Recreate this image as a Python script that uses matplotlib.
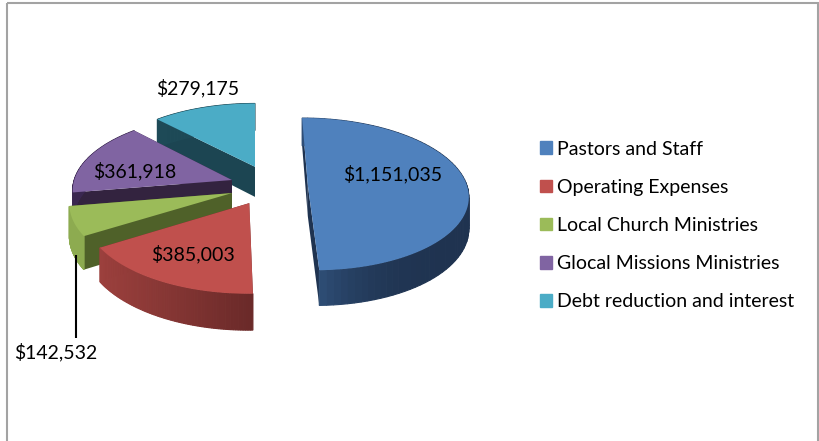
import numpy as np
import matplotlib
matplotlib.use("Agg")
import matplotlib.pyplot as plt
from matplotlib.patches import Patch, Rectangle

plt.rcParams["font.family"] = ["Lato", "DejaVu Sans"]

categories = ["Pastors and Staff", "Operating Expenses", "Local Church Ministries",
              "Glocal Missions Ministries", "Debt reduction and interest"]
values = [1151035, 385003, 142532, 361918, 279175]
value_labels = ["$1,151,035", "$385,003", "$142,532", "$361,918", "$279,175"]

top_colors = ["#4f81bd", "#c0504d", "#9bbb59", "#8064a2", "#4bacc6"]
side_left = ["#2f4f78", "#9c403d", "#8dab50", "#3a2750", "#1e4a57"]
side_right = ["#1f3350", "#6b2a29", "#7e9a47", "#33233f", "#1e4a57"]
radial_colors = ["#1f3350", "#6b2a29", "#4f6129", "#33233f", "#1c4552"]

# explode offset of each slice on the pie plane, radius = 1
explode = [(0.332, 0.0), (-0.035, -0.235), (-0.143, -0.106), (-0.146, 0.067), (0.0, 0.25)]
label_pos = [(393, 174), (193, 254), (56, 352), (135, 171), (198, 88)]

X0, Y0 = 255, 185
RX, RY = 159, 75
PERSP = 0.12
DEPTH = 31


def project(xw, yw, drop=0.0):
    s = 1 / (1 + PERSP * yw)
    return X0 + RX * xw * s, Y0 - RY * yw * s + drop * s


def mix(c1, c2, f):
    a = np.array(matplotlib.colors.to_rgb(c1))
    b = np.array(matplotlib.colors.to_rgb(c2))
    return tuple(a + (b - a) * f)


fig = plt.figure(figsize=(8.2, 4.41), dpi=100)
ax = fig.add_axes([0, 0, 1, 1])
ax.set_xlim(0, 820)
ax.set_ylim(441, 0)
ax.axis("off")

ax.add_patch(Rectangle((7, 3), 811, 460, fill=False, ec="#a3a3a3", lw=1.5))

edges = np.concatenate([[0], np.cumsum(values)]) / sum(values) * 2 * np.pi

# back slices first, so the front ones cover them
for i in [4, 3, 2, 0, 1]:
    t = np.linspace(edges[i], edges[i + 1], 80)
    ex, ey = explode[i]
    xw = ex + np.sin(t)
    yw = ey + np.cos(t)

    # flat side from the centre out to each cut edge
    for j in [0, -1]:
        cx0, cy0 = project(ex, ey)
        cx1, cy1 = project(ex, ey, DEPTH)
        ox0, oy0 = project(xw[j], yw[j])
        ox1, oy1 = project(xw[j], yw[j], DEPTH)
        ax.fill([cx0, ox0, ox1, cx1], [cy0, oy0, oy1, cy1], color=radial_colors[i], lw=0)

    # rim, built of small quads for the shading
    for j in range(len(t) - 1):
        xa, ya = project(xw[j], yw[j])
        xb, yb = project(xw[j + 1], yw[j + 1])
        xc, yc = project(xw[j + 1], yw[j + 1], DEPTH)
        xd, yd = project(xw[j], yw[j], DEPTH)
        if i == 0:
            f = np.clip((470 - xa) / 150, 0, 1)
            col = mix(side_right[i], side_left[i], f ** 3)
        else:
            f = np.clip((xa - 100) / 150, 0, 1)
            col = mix(side_left[i], side_right[i], f)
        ax.fill([xa, xb, xc, xd], [ya, yb, yc, yd], color=col, lw=0.8)

    # top face
    px, py = project(np.r_[ex, xw], np.r_[ey, yw])
    ax.fill(px, py, color=top_colors[i], lw=0)

# leader line of the small slice
ax.plot([76, 76], [255, 338], color="black", lw=1.5, solid_capstyle="butt")

for lab, (lx, ly) in zip(value_labels, label_pos):
    ax.text(lx, ly, lab, fontsize=14, color="black", ha="center", va="center")

handles = [Patch(color=c) for c in top_colors]
ax.legend(handles, categories, loc="center left", bbox_to_anchor=(540 / 820, 1 - 225.5 / 441),
          frameon=False, fontsize=14, handlelength=0.62, handleheight=0.62,
          labelspacing=1.09, handletextpad=0.26, borderpad=0, borderaxespad=0)

fig.savefig("out.png", dpi=100)
